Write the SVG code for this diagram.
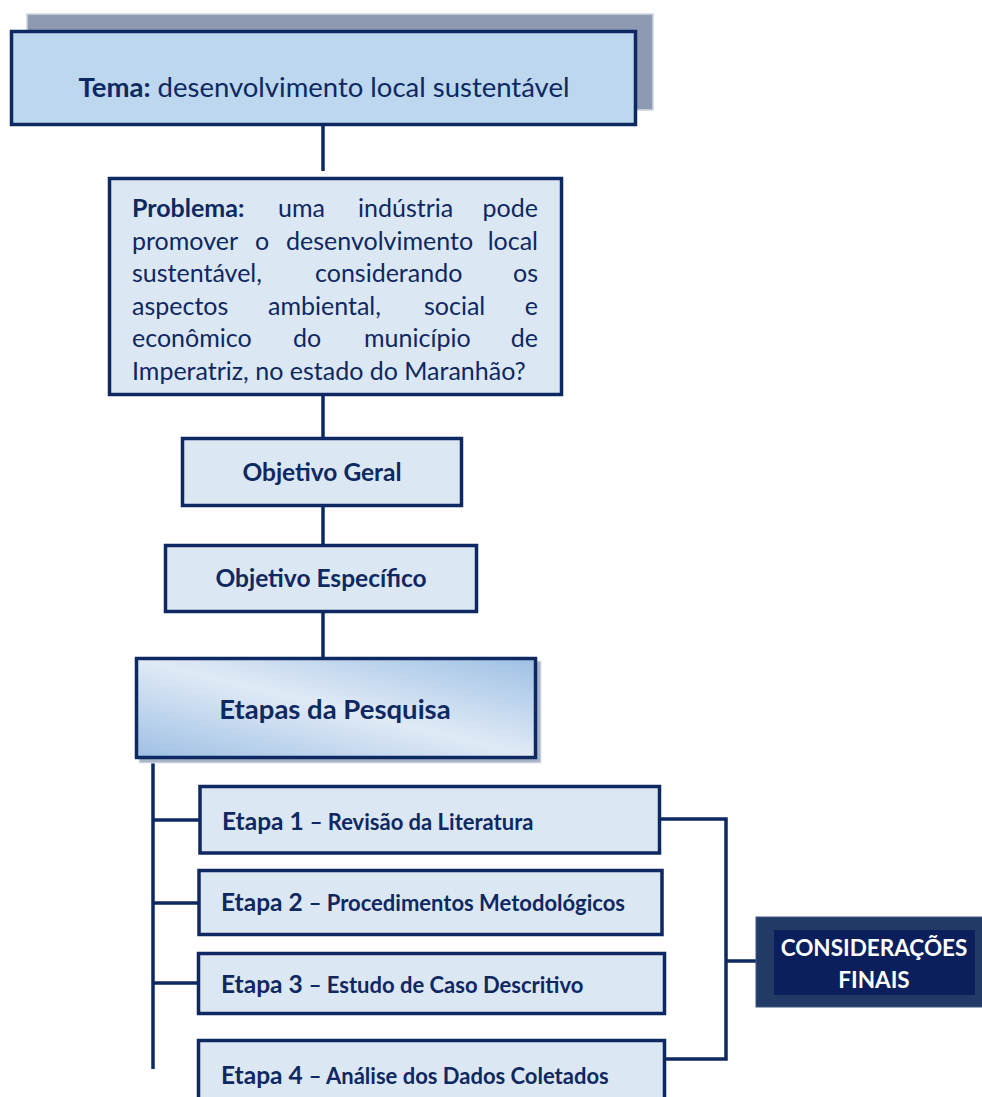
<svg xmlns="http://www.w3.org/2000/svg" width="982" height="1097" viewBox="0 0 982 1097">
<defs>
<style>
.box{fill:#DCE7F4;stroke:#0E2862;stroke-width:3.5}
.t{font-family:Lato,"Open Sans","Liberation Sans",sans-serif;fill:#0E2862}
.b{font-weight:bold}
.con{stroke:#0E2862;stroke-width:3.5;fill:none}
</style>
<linearGradient id="gEt" x1="0" y1="1" x2="1" y2="0">
<stop offset="0" stop-color="#9EC0E4"/>
<stop offset="0.5" stop-color="#E0EAF6"/>
<stop offset="1" stop-color="#9EC0E4"/>
</linearGradient>
</defs>
<rect width="982" height="1097" fill="#fff"/>
<g id="connectors">
<line class="con" x1="323" y1="126" x2="323" y2="171"/>
<line class="con" x1="323" y1="396" x2="323" y2="437"/>
<line class="con" x1="323" y1="507" x2="323" y2="544"/>
<line class="con" x1="323" y1="613" x2="323" y2="658"/>
<line class="con" x1="153" y1="759" x2="153" y2="1069"/>
<line class="con" x1="153" y1="820" x2="200" y2="820"/>
<line class="con" x1="153" y1="903" x2="198" y2="903"/>
<line class="con" x1="153" y1="983" x2="198" y2="983"/>
<polyline class="con" points="652,819 726,819 726,1059 663,1059"/>
<line class="con" x1="726" y1="961" x2="774" y2="961"/>
</g>
<g id="tema">
<rect x="27" y="14" width="626" height="96" fill="#8E9AB1" stroke="#D0D6E0" stroke-width="1.5"/>
<rect x="11.5" y="31.5" width="624" height="93" fill="#BDD7EE" stroke="#0E2862" stroke-width="3.5"/>
<text class="t" x="324" y="97" font-size="27.5" text-anchor="middle"><tspan class="b">Tema:</tspan> desenvolvimento local sustentável</text>
</g>
<g id="problema">
<rect class="box" x="109.5" y="178.5" width="452" height="216"/>
<g class="t" font-size="25">
<text x="132" y="217"><tspan class="b">Problema:</tspan></text>
<text x="278" y="217">uma</text>
<text x="358" y="217">indústria</text>
<text x="538" y="217" text-anchor="end">pode</text>
<text x="132" y="250">promover</text>
<text x="255" y="250">o</text>
<text x="286" y="250">desenvolvimento</text>
<text x="538" y="250" text-anchor="end">local</text>
<text x="132" y="282">sustentável,</text>
<text x="315" y="282">considerando</text>
<text x="538" y="282" text-anchor="end">os</text>
<text x="132" y="315">aspectos</text>
<text x="268" y="315">ambiental,</text>
<text x="424" y="315">social</text>
<text x="538" y="315" text-anchor="end">e</text>
<text x="132" y="347">econômico</text>
<text x="293" y="347">do</text>
<text x="364" y="347">município</text>
<text x="538" y="347" text-anchor="end">de</text>
<text x="132" y="380">Imperatriz, no estado do Maranhão?</text>
</g>
</g>
<g id="objetivo-geral">
<rect class="box" x="182.5" y="438.5" width="279" height="67"/>
<text class="t b" x="322" y="481" font-size="24.5" text-anchor="middle">Objetivo Geral</text>
</g>
<g id="objetivo-especifico">
<rect class="box" x="165.5" y="545.5" width="311" height="66"/>
<text class="t b" x="321" y="587" font-size="24.5" text-anchor="middle">Objetivo Específico</text>
</g>
<g id="etapas">
<rect x="139" y="661" width="402" height="102" fill="#A9B6CA" stroke="#E2E7EF" stroke-width="1"/>
<rect x="136.5" y="658.5" width="399" height="99" fill="url(#gEt)" stroke="#0E2862" stroke-width="3.5"/>
<text class="t b" x="335" y="719" font-size="27.5" text-anchor="middle">Etapas da Pesquisa</text>
</g>
<g id="etapa1">
<rect class="box" x="200" y="786.5" width="459.5" height="66.5"/>
<text class="t b" x="222" y="830" font-size="24.5">Etapa 1 <tspan font-size="22">– Revisão da Literatura</tspan></text>
</g>
<g id="etapa2">
<rect class="box" x="199" y="870.5" width="463" height="64"/>
<text class="t b" x="221" y="911" font-size="24.5">Etapa 2 <tspan font-size="22">– Procedimentos Metodológicos</tspan></text>
</g>
<g id="etapa3">
<rect class="box" x="198.5" y="953.5" width="466" height="60"/>
<text class="t b" x="221" y="993" font-size="24.5">Etapa 3 <tspan font-size="22">– Estudo de Caso Descritivo</tspan></text>
</g>
<g id="etapa4">
<rect class="box" x="198.5" y="1040.5" width="466" height="70"/>
<text class="t b" x="221" y="1084" font-size="24.5">Etapa 4 <tspan font-size="22">– Análise dos Dados Coletados</tspan></text>
</g>
<g id="consideracoes">
<rect x="756" y="917" width="232" height="90" fill="#213A66" stroke="#3E5580" stroke-width="1"/>
<rect x="774" y="930" width="201" height="65" fill="#0B1F5C"/>
<text font-family="Lato,'Open Sans','Liberation Sans',sans-serif" font-weight="bold" font-size="22.5" fill="#fff" text-anchor="middle"><tspan x="874" y="956">CONSIDERAÇÕES</tspan><tspan x="874" y="988">FINAIS</tspan></text>
</g>
</svg>
